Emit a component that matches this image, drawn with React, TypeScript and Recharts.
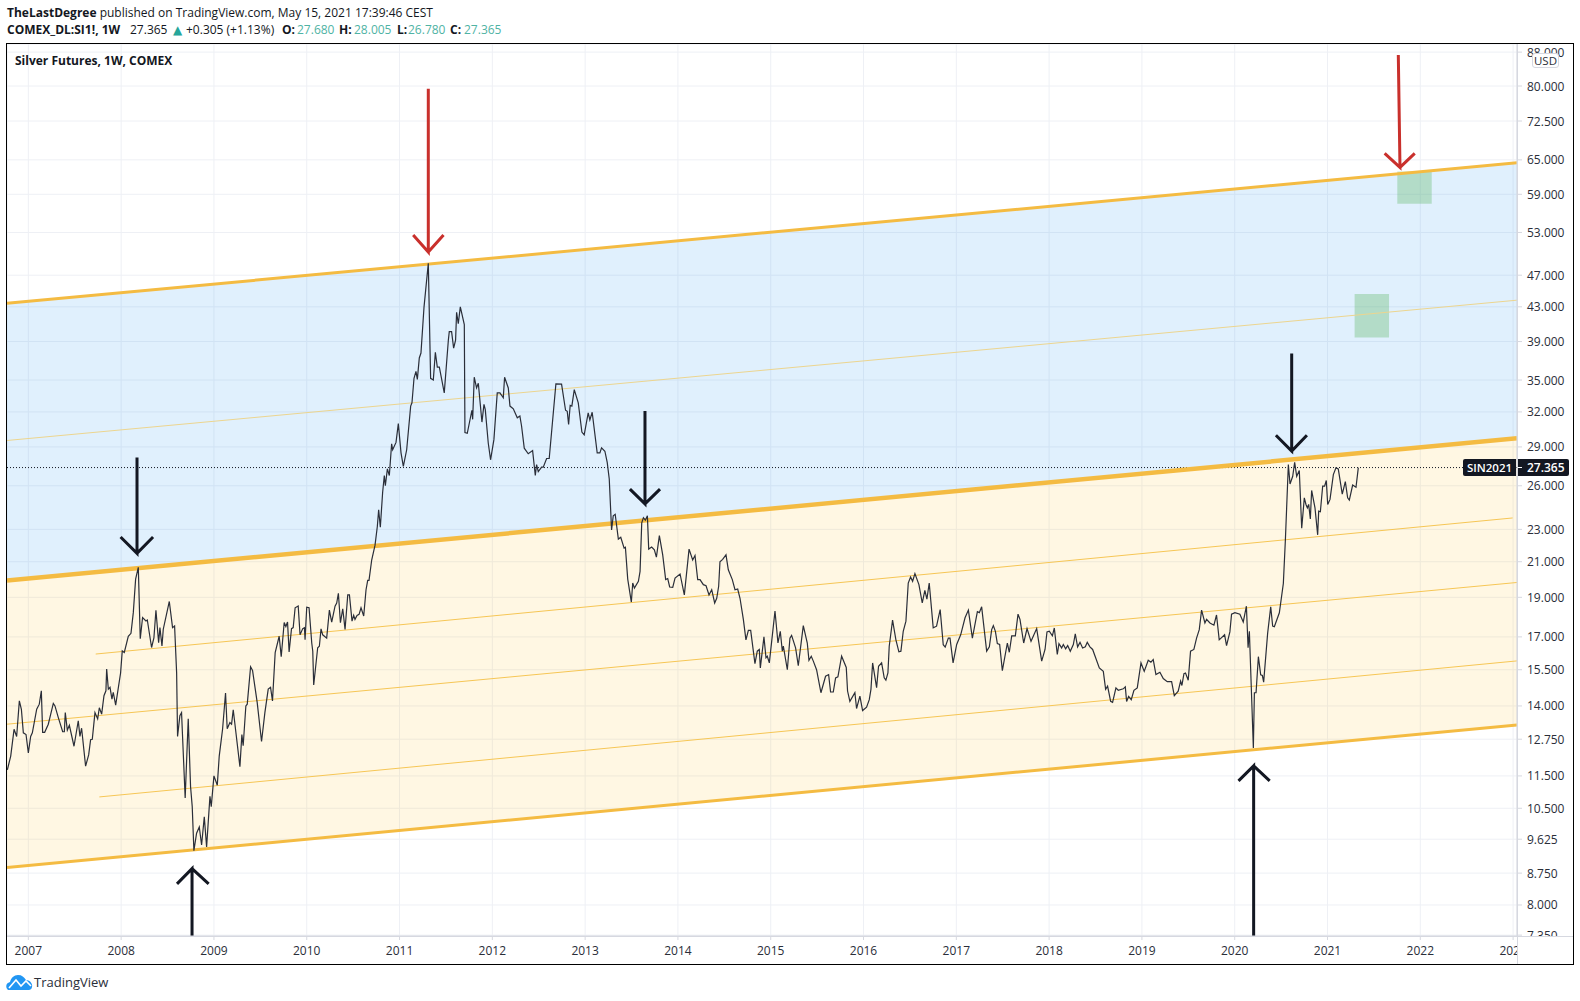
import React from 'react'
import {
  ComposedChart,
  Area,
  Line,
  XAxis,
  YAxis,
  CartesianGrid,
  ReferenceArea,
  ReferenceLine,
} from 'recharts'

type Pt = [number, number]

// weekly closes: [decimal year, price]
const closes2006to2009: Pt[] = [
  [2006.774, 11.7], [2006.81, 12.16], [2006.846, 13.11], [2006.874, 12.85], [2006.903, 14.2], [2006.925, 13.87],
  [2006.946, 12.98], [2006.975, 12.92], [2007.0, 12.27], [2007.025, 12.85], [2007.043, 12.98], [2007.09, 13.87],
  [2007.118, 14.07], [2007.14, 14.61], [2007.154, 13.0], [2007.176, 13.0], [2007.215, 13.3], [2007.269, 14.1],
  [2007.287, 14.0], [2007.323, 13.55], [2007.37, 13.02], [2007.388, 13.02], [2007.398, 13.74], [2007.42, 13.08],
  [2007.442, 13.26], [2007.492, 12.5], [2007.538, 13.43], [2007.556, 12.85], [2007.574, 13.15], [2007.617, 11.82],
  [2007.65, 12.2], [2007.671, 12.73], [2007.689, 12.75], [2007.718, 13.74], [2007.747, 13.5], [2007.765, 13.93],
  [2007.79, 13.68], [2007.815, 14.41], [2007.836, 14.61], [2007.844, 15.53], [2007.862, 14.68], [2007.88, 14.75],
  [2007.901, 14.27], [2007.915, 14.55], [2007.941, 14.03], [2007.994, 15.36], [2008.012, 16.34], [2008.034, 16.27],
  [2008.077, 17.03], [2008.106, 17.17], [2008.131, 18.2], [2008.156, 20.0], [2008.185, 20.67], [2008.206, 16.91],
  [2008.231, 17.95], [2008.267, 17.78], [2008.282, 17.83], [2008.328, 16.5], [2008.353, 16.95], [2008.375, 18.32],
  [2008.404, 16.72], [2008.418, 17.45], [2008.44, 16.57], [2008.454, 17.37], [2008.519, 18.78], [2008.554, 17.45],
  [2008.576, 17.53], [2008.598, 15.36], [2008.608, 12.85], [2008.633, 13.62], [2008.651, 13.74], [2008.69, 10.81],
  [2008.723, 13.5], [2008.748, 11.16], [2008.766, 10.55], [2008.784, 9.32], [2008.813, 9.79], [2008.842, 9.96],
  [2008.867, 9.47], [2008.896, 10.25], [2008.921, 9.42], [2008.957, 10.86], [2008.971, 10.55], [2009.0, 11.5],
  [2009.036, 11.2], [2009.057, 12.16], [2009.093, 13.11], [2009.125, 14.52], [2009.143, 13.13], [2009.172, 13.36],
  [2009.19, 13.3], [2009.208, 13.85], [2009.28, 11.8], [2009.301, 12.92], [2009.315, 12.52], [2009.344, 14.0],
  [2009.359, 14.07], [2009.395, 15.63], [2009.416, 15.47], [2009.466, 14.14], [2009.513, 12.67], [2009.549, 13.74],
  [2009.585, 14.68], [2009.61, 14.75], [2009.631, 14.2], [2009.66, 16.27], [2009.703, 17.03], [2009.725, 16.08],
  [2009.757, 17.7], [2009.775, 17.5], [2009.793, 17.73], [2009.81, 16.3], [2009.836, 17.4], [2009.854, 17.45],
  [2009.875, 18.45], [2009.908, 18.54], [2009.928, 17.1], [2009.957, 17.4], [2009.975, 17.44], [2009.982, 16.86],
]

const closes2010to2012: Pt[] = [
  [2010.0, 18.48], [2010.025, 18.45], [2010.054, 16.71], [2010.065, 16.33], [2010.075, 14.85], [2010.118, 16.49],
  [2010.136, 16.56], [2010.154, 17.39], [2010.172, 17.1], [2010.215, 16.94], [2010.244, 18.33], [2010.269, 17.72],
  [2010.305, 18.53], [2010.323, 18.7], [2010.341, 19.22], [2010.363, 17.69], [2010.388, 18.4], [2010.413, 17.36],
  [2010.442, 19.13], [2010.46, 19.13], [2010.488, 17.77], [2010.506, 18.06], [2010.52, 17.86], [2010.542, 18.06],
  [2010.564, 18.11], [2010.585, 18.45], [2010.614, 18.03], [2010.639, 19.41], [2010.657, 19.93], [2010.671, 19.93],
  [2010.7, 21.1], [2010.736, 22.0], [2010.761, 23.2], [2010.775, 24.3], [2010.793, 23.14], [2010.818, 25.53],
  [2010.836, 26.76], [2010.847, 26.0], [2010.869, 27.26], [2010.89, 26.76], [2010.915, 29.26], [2010.926, 28.77],
  [2010.962, 29.37], [2010.987, 30.96], [2011.016, 28.52], [2011.041, 27.46], [2011.077, 28.77], [2011.12, 32.53],
  [2011.134, 32.83], [2011.156, 35.17], [2011.177, 35.86], [2011.192, 35.07], [2011.213, 37.24], [2011.231, 37.76],
  [2011.264, 43.0], [2011.31, 48.6], [2011.335, 35.17], [2011.364, 35.0], [2011.386, 37.83], [2011.407, 36.3],
  [2011.429, 36.3], [2011.482, 33.76], [2011.526, 39.15], [2011.536, 40.1], [2011.561, 40.1], [2011.583, 38.28],
  [2011.604, 39.15], [2011.615, 42.35], [2011.633, 41.0], [2011.655, 43.0], [2011.698, 40.9], [2011.705, 30.19],
  [2011.73, 30.13], [2011.78, 32.15], [2011.788, 31.34], [2011.805, 35.28], [2011.83, 34.23], [2011.849, 34.69],
  [2011.888, 31.1], [2011.91, 32.68], [2011.924, 32.2], [2011.956, 29.32], [2011.981, 27.97], [2012.017, 29.6],
  [2012.053, 33.76], [2012.082, 33.76], [2012.118, 33.3], [2012.132, 35.28], [2012.172, 34.23], [2012.19, 32.53],
  [2012.226, 32.28], [2012.269, 31.48], [2012.297, 31.63], [2012.315, 30.76], [2012.344, 28.9], [2012.387, 28.45],
  [2012.434, 28.7], [2012.463, 26.76], [2012.477, 27.6], [2012.495, 27.06], [2012.531, 27.4], [2012.549, 27.4],
  [2012.585, 28.07], [2012.613, 28.07], [2012.685, 34.62], [2012.746, 34.6], [2012.789, 32.15], [2012.807, 32.06],
  [2012.822, 30.9], [2012.839, 32.6], [2012.857, 32.53], [2012.883, 34.07], [2012.926, 32.83], [2012.965, 30.24],
  [2012.99, 30.0],
]

const closes2013to2015: Pt[] = [
  [2013.033, 31.91], [2013.051, 31.28], [2013.076, 31.97], [2013.13, 28.52], [2013.159, 28.52], [2013.177, 28.92],
  [2013.213, 28.65], [2013.238, 27.77], [2013.26, 26.5], [2013.285, 22.96], [2013.303, 23.9], [2013.324, 24.0],
  [2013.358, 22.38], [2013.384, 22.49], [2013.42, 21.82], [2013.434, 21.87], [2013.459, 20.0], [2013.498, 18.75],
  [2013.513, 19.78], [2013.531, 19.5], [2013.574, 19.88], [2013.592, 20.44], [2013.61, 23.42], [2013.628, 23.77],
  [2013.649, 23.6], [2013.671, 23.89], [2013.685, 21.76], [2013.717, 21.89], [2013.746, 21.72], [2013.768, 21.27],
  [2013.8, 22.6], [2013.836, 21.41], [2013.868, 19.97], [2013.89, 20.03], [2013.911, 19.56], [2013.944, 19.54],
  [2013.969, 20.06], [2014.023, 20.29], [2014.069, 19.13], [2014.12, 21.76], [2014.159, 21.1], [2014.184, 21.37],
  [2014.213, 19.97], [2014.238, 19.97], [2014.274, 19.69], [2014.303, 19.63], [2014.335, 19.13], [2014.364, 19.41],
  [2014.396, 18.7], [2014.418, 18.95], [2014.439, 19.6], [2014.453, 21.0], [2014.482, 21.14], [2014.518, 21.41],
  [2014.543, 20.53], [2014.586, 19.97], [2014.615, 19.41], [2014.644, 19.45], [2014.669, 18.95], [2014.705, 17.86],
  [2014.733, 16.86], [2014.759, 17.31], [2014.784, 17.31], [2014.83, 15.77], [2014.855, 16.33], [2014.877, 16.41],
  [2014.888, 15.58], [2014.927, 17.0], [2014.949, 16.03], [2014.963, 16.1], [2014.985, 15.8], [2015.046, 18.28],
  [2015.078, 16.71], [2015.103, 17.27], [2015.125, 16.33], [2015.136, 16.56], [2015.179, 15.5], [2015.207, 16.94],
  [2015.225, 17.07], [2015.268, 16.48], [2015.297, 15.68], [2015.351, 17.55], [2015.394, 16.71], [2015.412, 15.92],
  [2015.437, 16.1], [2015.459, 15.88], [2015.494, 15.5], [2015.541, 14.53], [2015.591, 15.22], [2015.624, 15.29],
  [2015.645, 14.56], [2015.674, 14.56], [2015.699, 15.15], [2015.724, 15.19], [2015.764, 16.1], [2015.814, 15.6],
  [2015.828, 14.6], [2015.853, 14.18], [2015.907, 14.53], [2015.925, 13.9], [2015.961, 14.39], [2015.99, 13.82],
]

const closes2016to2018: Pt[] = [
  [2016.033, 13.95], [2016.062, 14.25], [2016.08, 14.67], [2016.098, 15.8], [2016.141, 14.74], [2016.162, 15.65],
  [2016.195, 15.8], [2016.223, 15.15], [2016.241, 15.05], [2016.263, 15.36], [2016.277, 16.56], [2016.313, 17.82],
  [2016.349, 16.86], [2016.381, 16.3], [2016.403, 16.33], [2016.428, 17.27], [2016.457, 17.77], [2016.482, 19.78],
  [2016.507, 20.12], [2016.529, 19.88], [2016.554, 20.31], [2016.597, 19.69], [2016.633, 18.7], [2016.661, 19.37],
  [2016.683, 18.9], [2016.708, 19.78], [2016.751, 17.44], [2016.787, 17.52], [2016.826, 18.36], [2016.859, 16.63],
  [2016.88, 16.52], [2016.914, 16.94], [2016.932, 16.94], [2016.965, 15.8], [2017.004, 16.64], [2017.047, 17.1],
  [2017.094, 17.94], [2017.13, 18.33], [2017.173, 16.94], [2017.227, 18.25], [2017.248, 18.2], [2017.273, 18.5],
  [2017.327, 16.33], [2017.356, 16.53], [2017.381, 17.35], [2017.399, 17.55], [2017.421, 17.27], [2017.442, 16.68],
  [2017.467, 16.64], [2017.496, 15.46], [2017.55, 16.71], [2017.571, 16.28], [2017.597, 17.05], [2017.636, 17.05],
  [2017.665, 18.12], [2017.686, 17.86], [2017.726, 16.71], [2017.762, 17.4], [2017.805, 16.79], [2017.866, 17.4],
  [2017.92, 15.88], [2017.956, 16.41], [2017.977, 17.24], [2018.002, 17.27], [2018.035, 17.05], [2018.056, 17.43],
  [2018.088, 16.18], [2018.106, 16.68], [2018.135, 16.48], [2018.153, 16.64], [2018.178, 16.44], [2018.2, 16.59],
  [2018.228, 16.33], [2018.261, 16.64], [2018.282, 17.15], [2018.307, 16.53], [2018.333, 16.74], [2018.361, 16.48],
  [2018.39, 16.53], [2018.411, 16.74], [2018.44, 16.53], [2018.469, 16.41], [2018.541, 15.58], [2018.584, 15.43],
  [2018.609, 14.67], [2018.63, 14.8], [2018.663, 14.18], [2018.684, 14.14], [2018.72, 14.73], [2018.745, 14.63],
  [2018.799, 14.69], [2018.821, 14.77], [2018.835, 14.18], [2018.857, 14.38], [2018.885, 14.25], [2018.914, 14.63],
  [2018.95, 14.73], [2018.99, 15.8],
]

const closes2019to2021: Pt[] = [
  [2019.025, 15.43], [2019.068, 15.92], [2019.097, 15.83], [2019.122, 15.95], [2019.151, 15.29], [2019.194, 15.39],
  [2019.23, 15.12], [2019.273, 14.99], [2019.32, 14.99], [2019.349, 14.41], [2019.391, 14.59], [2019.417, 15.01],
  [2019.431, 14.83], [2019.453, 15.33], [2019.47, 15.36], [2019.499, 15.05], [2019.524, 16.33], [2019.56, 16.41],
  [2019.589, 16.94], [2019.618, 17.35], [2019.643, 18.33], [2019.679, 17.68], [2019.697, 17.86], [2019.733, 17.68],
  [2019.776, 17.57], [2019.804, 18.08], [2019.833, 16.86], [2019.891, 17.1], [2019.912, 16.59], [2019.948, 17.24],
  [2019.966, 18.12], [2020.002, 18.2], [2020.056, 18.12], [2020.092, 17.73], [2020.126, 18.53], [2020.144, 16.49],
  [2020.158, 17.27], [2020.201, 12.44], [2020.212, 14.53], [2020.23, 14.53], [2020.255, 16.08], [2020.28, 15.28],
  [2020.298, 15.25], [2020.312, 14.97], [2020.355, 17.18], [2020.388, 18.5], [2020.409, 17.52], [2020.427, 17.49],
  [2020.481, 18.19], [2020.524, 19.75], [2020.546, 22.32], [2020.578, 27.6], [2020.596, 26.13], [2020.625, 26.7],
  [2020.646, 27.78], [2020.668, 26.7], [2020.696, 27.14], [2020.722, 23.07], [2020.75, 25.13], [2020.768, 24.67],
  [2020.783, 24.44], [2020.797, 24.67], [2020.815, 23.69], [2020.829, 25.66], [2020.865, 24.44], [2020.894, 22.65],
  [2020.905, 24.21], [2020.923, 24.17], [2020.948, 25.98], [2020.969, 25.98], [2020.987, 26.39], [2021.002, 24.67],
  [2021.027, 25.02], [2021.063, 26.83], [2021.091, 27.34], [2021.116, 27.26], [2021.159, 25.4], [2021.192, 26.31],
  [2021.217, 25.13], [2021.235, 24.97], [2021.271, 26.05], [2021.307, 25.89], [2021.332, 27.365],
]

// channel rails, each from its first to its last date
const topRail: Pt[] = [[2006.77, 43.42], [2023.042, 64.48]]
const upperMidline: Pt[] = [[2006.77, 29.53], [2023.042, 43.81]]
const middleRail: Pt[] = [[2006.77, 19.92], [2023.042, 29.71]]
const innerLineA: Pt[] = [[2007.726, 16.2], [2022.995, 23.75]]
const innerLineB: Pt[] = [[2006.77, 13.3], [2023.042, 19.81]]
const innerLineC: Pt[] = [[2007.765, 10.84], [2023.042, 15.89]]
const bottomRail: Pt[] = [[2006.77, 8.89], [2023.042, 13.27]]

// arrows: tail, tip, one barb, tip, other barb
const redArrow2011: Pt[] = [[2011.31, 79.4], [2011.31, 50.16], [2011.147, 52.63], [2011.31, 50.16], [2011.474, 52.63]]
const redArrow2021: Pt[] = [[2021.763, 87.28], [2021.781, 63.64], [2021.616, 66.2], [2021.781, 63.64], [2021.94, 66.2]]
const downArrow2008: Pt[] = [[2008.171, 28.15], [2008.171, 21.5], [2007.994, 22.51], [2008.171, 21.5], [2008.344, 22.51]]
const downArrow2013: Pt[] = [[2013.645, 32.08], [2013.645, 24.71], [2013.483, 25.76], [2013.645, 24.71], [2013.807, 25.76]]
const downArrow2020: Pt[] = [[2020.614, 37.7], [2020.614, 28.67], [2020.444, 29.97], [2020.614, 28.67], [2020.778, 29.97]]
const upArrow2008: Pt[] = [[2008.764, 7.332], [2008.764, 8.86], [2008.602, 8.49], [2008.764, 8.86], [2008.943, 8.49]]
const upArrow2020: Pt[] = [[2020.204, 7.332], [2020.204, 11.83], [2020.041, 11.34], [2020.204, 11.83], [2020.377, 11.34]]

const yearTicks = [2007, 2008, 2009, 2010, 2011, 2012, 2013, 2014, 2015, 2016, 2017, 2018, 2019, 2020, 2021, 2022, 2023]
const priceTicks = [
  88, 80, 72.5, 65, 59, 53, 47, 43, 39, 35, 32, 29, 26, 23, 21, 19, 17, 15.5, 14, 12.75, 11.5, 10.5, 9.625, 8.75, 8, 7.35,
]

const lastClose = 27.365

const toRows = (pts: Pt[]) => pts.map(([x, y]) => ({ x, y }))
const bandRows = (hi: Pt[], lo: Pt[]) => hi.map(([x, y], i) => ({ x, band: [lo[i][1], y] }))

const priceRows = toRows([
  ...closes2006to2009,
  ...closes2010to2012,
  ...closes2013to2015,
  ...closes2016to2018,
  ...closes2019to2021,
])

const FONT = "'Open Sans', sans-serif"
const INK = '#131722'
const RAIL = '#f4bb42'
const PLOT_W = 1510
const PLOT_H = 892

function YearTick({ x, y, payload }: any) {
  return (
    <g>
      <clipPath id={`xclip-${payload.value}`}>
        <rect x={0} y={PLOT_H} width={PLOT_W} height={30} />
      </clipPath>
      <text
        x={x}
        y={y + 13}
        textAnchor="middle"
        fontFamily={FONT}
        fontSize={12}
        fill="#2a2e39"
        clipPath={`url(#xclip-${payload.value})`}
      >
        {payload.value}
      </text>
    </g>
  )
}

function PriceTick({ x, y, payload }: any) {
  return (
    <g>
      <clipPath id={`yclip-${payload.index}`}>
        <rect x={PLOT_W} y={0} width={56} height={PLOT_H} />
      </clipPath>
      <text
        x={x + 3}
        y={y + 4.5}
        fontFamily={FONT}
        fontSize={12}
        fill="#2a2e39"
        clipPath={`url(#yclip-${payload.index})`}
      >
        {payload.value.toFixed(3)}
      </text>
    </g>
  )
}

const railLine = (key: string, pts: Pt[], width: number, color: string) => (
  <Line
    key={key}
    data={toRows(pts)}
    dataKey="y"
    stroke={color}
    strokeWidth={width}
    dot={false}
    activeDot={false}
    isAnimationActive={false}
    legendType="none"
  />
)

const arrowLine = (key: string, pts: Pt[], color: string) => (
  <Line
    key={key}
    data={toRows(pts)}
    dataKey="y"
    stroke={color}
    strokeWidth={3}
    strokeLinejoin="miter"
    dot={false}
    activeDot={false}
    isAnimationActive={false}
    legendType="none"
  />
)

const abs = (left: number, top: number, extra: React.CSSProperties = {}): React.CSSProperties => ({
  position: 'absolute',
  left,
  top,
  whiteSpace: 'nowrap',
  ...extra,
})

const TEAL = '#4fb3a4'

// legend row: [left edge, text, bold, colour]
const legendRow: [number, string, boolean, string][] = [
  [7, 'COMEX_DL:SI1!, 1W', true, INK],
  [130, '27.365', false, INK],
  [186, '+0.305 (+1.13%)', false, INK],
  [282, 'O:', true, INK],
  [297, '27.680', false, TEAL],
  [339, 'H:', true, INK],
  [354, '28.005', false, TEAL],
  [397, 'L:', true, INK],
  [408, '26.780', false, TEAL],
  [450, 'C:', true, INK],
  [464, '27.365', false, TEAL],
]

export default function App() {
  return (
    <div style={abs(0, 0, { width: 1580, height: 1001, background: '#fff', fontFamily: FONT, color: INK })}>
      <div style={abs(7, 4, { fontSize: 12, lineHeight: '18px' })}>
        <b>TheLastDegree</b> published on TradingView.com, May 15, 2021 17:39:46 CEST
      </div>
      {legendRow.map(([left, text, bold, color], i) => (
        <div key={i} style={abs(left, 21, { fontSize: 12, lineHeight: '18px', fontWeight: bold ? 700 : 400, color })}>
          {text}
        </div>
      ))}
      <div style={abs(173, 21, { fontSize: 12, lineHeight: '18px', fontFamily: "'DejaVu Sans'", color: '#26a69a' })}>▲</div>

      <div style={abs(7, 44)}>
        <ComposedChart width={1566} height={920} margin={{ top: 0, right: 0, bottom: 0, left: 0 }}>
          <CartesianGrid stroke="#eef0f5" strokeWidth={1} />
          <XAxis
            dataKey="x"
            type="number"
            domain={[2006.77, 2023.042]}
            ticks={yearTicks}
            interval={0}
            allowDataOverflow
            height={28}
            tick={<YearTick />}
            tickSize={4}
            stroke="#d6d8e0"
          />
          <YAxis
            orientation="right"
            scale="log"
            type="number"
            domain={[7.332, 90.03]}
            ticks={priceTicks}
            interval={0}
            allowDataOverflow
            width={56}
            tick={<PriceTick />}
            tickSize={5}
            stroke="#d6d8e0"
          />
          <Area
            data={bandRows(topRail, middleRail)}
            dataKey="band"
            type="linear"
            stroke="none"
            fill="#2196f3"
            fillOpacity={0.14}
            dot={false}
            activeDot={false}
            isAnimationActive={false}
          />
          <Area
            data={bandRows(middleRail, bottomRail)}
            dataKey="band"
            type="linear"
            stroke="none"
            fill="#ffb300"
            fillOpacity={0.11}
            dot={false}
            activeDot={false}
            isAnimationActive={false}
          />
          <ReferenceArea x1={2021.292} x2={2021.663} y1={39.45} y2={44.57} fill="#4caf50" fillOpacity={0.3} stroke="none" />
          <ReferenceArea x1={2021.752} x2={2022.123} y1={57.47} y2={62.9} fill="#4caf50" fillOpacity={0.3} stroke="none" />
          <ReferenceLine y={lastClose} stroke={INK} strokeWidth={1} strokeDasharray="1 2" />
          {railLine('upperMid', upperMidline, 1, '#ecd58f')}
          {railLine('innerA', innerLineA, 1, '#f6c655')}
          {railLine('innerB', innerLineB, 1, '#f6c655')}
          {railLine('innerC', innerLineC, 1, '#f6c655')}
          {railLine('top', topRail, 3, RAIL)}
          {railLine('middle', middleRail, 4.5, RAIL)}
          {railLine('bottom', bottomRail, 3, RAIL)}
          <Line
            data={priceRows}
            dataKey="y"
            type="linear"
            stroke="#2a2e39"
            strokeWidth={1.2}
            dot={false}
            activeDot={false}
            isAnimationActive={false}
          />
          {arrowLine('red2011', redArrow2011, '#c9302c')}
          {arrowLine('red2021', redArrow2021, '#c9302c')}
          {arrowLine('down2008', downArrow2008, INK)}
          {arrowLine('down2013', downArrow2013, INK)}
          {arrowLine('down2020', downArrow2020, INK)}
          {arrowLine('up2008', upArrow2008, INK)}
          {arrowLine('up2020', upArrow2020, INK)}
        </ComposedChart>
      </div>

      <div style={abs(15, 52, { fontSize: 12, fontWeight: 700, lineHeight: '17px' })}>Silver Futures, 1W, COMEX</div>

      {/* last price tags */}
      <div
        style={abs(1463, 459, {
          width: 53,
          height: 17,
          background: INK,
          color: '#fff',
          fontSize: 11.5,
          fontWeight: 600,
          lineHeight: '17px',
          textAlign: 'center',
          borderRadius: '2px 0 0 2px',
        })}
      >
        SIN2021
      </div>
      <div
        style={abs(1517, 459, {
          width: 52,
          height: 17,
          background: INK,
          color: '#fff',
          fontSize: 12,
          fontWeight: 600,
          lineHeight: '17px',
          paddingLeft: 10,
          boxSizing: 'border-box',
          borderRadius: '0 2px 2px 0',
        })}
      >
        27.365
      </div>
      <div style={abs(1517, 467, { width: 5, height: 1, background: '#fff' })} />

      <div
        style={abs(1532, 53, {
          width: 27,
          height: 15,
          background: '#fff',
          border: '1px solid #d6d8e0',
          borderRadius: 3,
          boxSizing: 'border-box',
          fontSize: 11.5,
          lineHeight: '13px',
          textAlign: 'center',
          color: '#2a2e39',
        })}
      >
        USD
      </div>

      {/* frame and axis rules */}
      <div style={abs(1517, 44, { width: 1, height: 920, background: '#d6d8e0' })} />
      <div style={abs(7, 936, { width: 1566, height: 1, background: '#d6d8e0' })} />
      <div
        style={abs(6, 43, {
          width: 1568,
          height: 922,
          boxSizing: 'border-box',
          border: '1.5px solid #000',
          pointerEvents: 'none',
        })}
      />

      {/* footer logo */}
      <svg style={abs(6, 974)} width={27} height={17} viewBox="0 0 27 17">
        <path
          d="M2 16 C-1 13 0 9 4 8 C5 4 8 1 12 1 C16 1 18 3 20 6 C24 6 27 10 26 13 C26 15 24 16 23 16 Z"
          fill="#2196f3"
        />
        <path d="M3 14 L10 6 L15 12 L20 7 L25 12" fill="none" stroke="#fff" strokeWidth={1.6} />
      </svg>
      <div style={abs(34, 973, { fontSize: 13, lineHeight: '18px', color: '#2a2e39' })}>TradingView</div>
    </div>
  )
}
